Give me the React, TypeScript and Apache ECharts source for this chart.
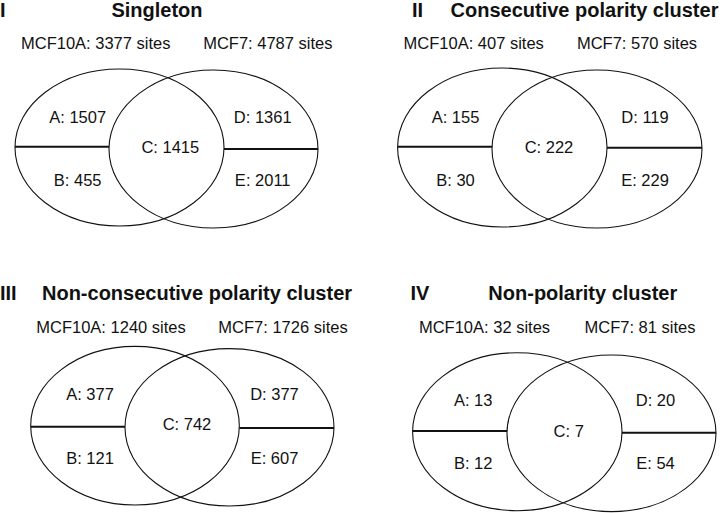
import React, { useEffect, useRef } from "react";
import * as echarts from "echarts";

// ---- data ----
const numerals = ["I", "II", "III", "IV"];
const panelTitles = [
  "Singleton",
  "Consecutive polarity cluster",
  "Non-consecutive polarity cluster",
  "Non-polarity cluster",
];
const mcf10aSites = [3377, 407, 1240, 32];
const mcf7Sites = [4787, 570, 1726, 81];
const regionA = [1507, 155, 377, 13];
const regionB = [455, 30, 121, 12];
const regionC = [1415, 222, 742, 7];
const regionD = [1361, 119, 377, 20];
const regionE = [2011, 229, 607, 54];

// ---- layout (pixel geometry of each panel) ----
const layout = [
  {
    numX: 0, numY: 10, titleX: 157, titleY: 10,
    siteY: 42.5, site1X: 95.7, site2X: 267.8,
    L: { cx: 119.5, cy: 147.5, rx: 104.5, ry: 78.5 },
    R: { cx: 213.5, cy: 149, rx: 104.5, ry: 79 },
    lineYL: 146.7, lineYR: 149,
    aX: 77.7, dX: 262.7, cX: 170.3, topY: 117.3, midY: 146.7, botY: 180,
  },
  {
    numX: 417.5, numY: 10, titleX: 584.5, titleY: 10, numAlign: "center",
    siteY: 42.5, site1X: 473.7, site2X: 637,
    L: { cx: 502.3, cy: 147.5, rx: 104.7, ry: 79.5 },
    R: { cx: 597, cy: 149, rx: 105, ry: 79 },
    lineYL: 146.7, lineYR: 147.7,
    aX: 455.5, dX: 645, cX: 549, topY: 117.3, midY: 146.7, botY: 180,
  },
  {
    numX: 0, numY: 292.5, titleX: 197, titleY: 292.5,
    siteY: 326.5, site1X: 111, site2X: 283,
    L: { cx: 135, cy: 425.7, rx: 104.3, ry: 79.3 },
    R: { cx: 229.5, cy: 427.3, rx: 104.5, ry: 78.7 },
    lineYL: 426.7, lineYR: 428,
    aX: 90, dX: 274.5, cX: 187, topY: 394.3, midY: 424.3, botY: 457.7,
  },
  {
    numX: 420, numY: 293, titleX: 582.8, titleY: 293, numAlign: "center",
    siteY: 326.5, site1X: 484.5, site2X: 640,
    L: { cx: 517.3, cy: 431.7, rx: 104.7, ry: 79 },
    R: { cx: 611.5, cy: 433.3, rx: 104.5, ry: 78.3 },
    lineYL: 431, lineYR: 432.7,
    aX: 473.2, dX: 655.5, cX: 568.7, topY: 400, midY: 431, botY: 462.7,
  },
];

const FONT = "'Liberation Sans', Arial, Helvetica, sans-serif";
const INK = "#111";

function txt(x: number, y: number, text: string, opts: any = {}) {
  return {
    type: "text",
    x,
    y,
    silent: true,
    style: {
      text,
      fill: INK,
      font: `${opts.weight || "normal"} ${opts.size || 16.5}px ${FONT}`,
      fontFamily: FONT,
      fontSize: opts.size || 16.5,
      fontWeight: opts.weight || "normal",
      textAlign: opts.align || "center",
      textVerticalAlign: "middle",
      align: opts.align || "center",
      verticalAlign: "middle",
    },
  };
}

function buildGraphics() {
  const els: any[] = [];
  layout.forEach((p, i) => {
    els.push(
      txt(p.numX, p.numY, numerals[i], {
        weight: "bold",
        size: 20,
        align: (p as any).numAlign || "left",
      })
    );
    els.push(txt(p.titleX, p.titleY, panelTitles[i], { weight: "bold", size: 20 }));
    els.push(txt(p.site1X, p.siteY, `MCF10A: ${mcf10aSites[i]} sites`));
    els.push(txt(p.site2X, p.siteY, `MCF7: ${mcf7Sites[i]} sites`));
    [p.L, p.R].forEach((e) => {
      els.push({
        type: "ellipse",
        silent: true,
        shape: { cx: e.cx, cy: e.cy, rx: e.rx, ry: e.ry },
        style: { fill: "none", stroke: INK, lineWidth: 1.1 },
      });
    });
    els.push({
      type: "line",
      silent: true,
      shape: { x1: p.L.cx - p.L.rx, y1: p.lineYL, x2: p.R.cx - p.R.rx, y2: p.lineYL },
      style: { stroke: INK, lineWidth: 2 },
    });
    els.push({
      type: "line",
      silent: true,
      shape: { x1: p.L.cx + p.L.rx, y1: p.lineYR, x2: p.R.cx + p.R.rx, y2: p.lineYR },
      style: { stroke: INK, lineWidth: 2 },
    });
    els.push(txt(p.aX, p.topY, `A: ${regionA[i]}`));
    els.push(txt(p.aX, p.botY, `B: ${regionB[i]}`));
    els.push(txt(p.cX, p.midY, `C: ${regionC[i]}`));
    els.push(txt(p.dX, p.topY, `D: ${regionD[i]}`));
    els.push(txt(p.dX, p.botY, `E: ${regionE[i]}`));
  });
  return els;
}

export default function App() {
  const ref = useRef<HTMLDivElement>(null);
  useEffect(() => {
    if (!ref.current) return;
    const chart = echarts.init(ref.current, undefined, { renderer: "svg" });
    chart.setOption({
      animation: false,
      backgroundColor: "#fff",
      graphic: { elements: buildGraphics() },
    });
    return () => chart.dispose();
  }, []);
  return (
    <div
      ref={ref}
      style={{ width: 725, height: 513, position: "absolute", left: 0, top: 0 }}
    />
  );
}
